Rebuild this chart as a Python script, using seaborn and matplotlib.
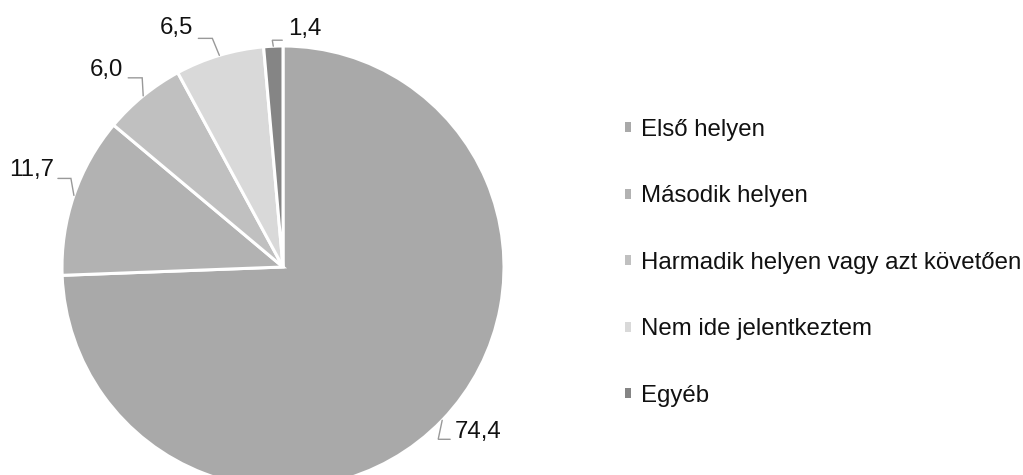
import numpy as np
import seaborn as sns
import matplotlib.pyplot as plt

# adatok
categories = ["Első helyen", "Második helyen", "Harmadik helyen vagy azt követően",
              "Nem ide jelentkeztem", "Egyéb"]
values = [74.4, 11.7, 6.0, 6.5, 1.4]
value_labels = ["74,4", "11,7", "6,0", "6,5", "1,4"]
colors = ["#a9a9a9", "#b2b2b2", "#c0c0c0", "#d9d9d9", "#858585"]

# címkék elhelyezése (pixelben): könyök, vízszintes szakasz, szöveg eltolás
label_layout = [
    dict(b=(-4, 19), c=12, ha="left", t=(5, -7)),
    dict(b=(-3, -17), c=-13, ha="right", t=(-4, -8)),
    dict(b=(-1, -18), c=-14, ha="right", t=(-5, -8)),
    dict(b=(-7, -17), c=-14, ha="right", t=(-5, -10)),
    dict(b=(-1, -6), c=10, ha="left", t=(6, -11)),
]


def set_config():
    sns.set_theme(style="white")
    plt.rcParams["font.family"] = ["Liberation Sans", "DejaVu Sans"]


def draw_pie():
    W, H = 1023, 475
    cx, cy, r = 283, 267, 221
    fig = plt.figure(figsize=(W / 100, H / 100), dpi=100)
    ax = fig.add_axes([(cx - r) / W, (H - cy - r) / H, 2 * r / W, 2 * r / H])

    wedges, _ = ax.pie(values, colors=colors, startangle=90, counterclock=False,
                       radius=1, wedgeprops=dict(edgecolor="white", linewidth=2.2))
    ax.set_xlim(-1, 1)
    ax.set_ylim(-1, 1)
    ax.set_aspect("auto")
    ax.axis("off")

    px = 1 / r  # egy pixel adategységben
    for w, lab, lay in zip(wedges, value_labels, label_layout):
        ang = np.deg2rad((w.theta1 + w.theta2) / 2)
        ex, ey = np.cos(ang), np.sin(ang)
        bx, by = ex + lay["b"][0] * px, ey - lay["b"][1] * px
        qx = bx + lay["c"] * px
        ax.plot([ex, bx, qx], [ey, by, by], color="#999999", lw=1,
                clip_on=False, solid_joinstyle="miter")
        ax.text(qx + lay["t"][0] * px, by - lay["t"][1] * px, lab,
                ha=lay["ha"], va="center", fontsize=17.3, color="#111111")

    leg = fig.legend(wedges, categories, loc="upper left",
                     bbox_to_anchor=(625 / W, (H - 119) / H), frameon=False,
                     fontsize=17.3, handlelength=0.27, handleheight=0.27,
                     handletextpad=0.38, labelspacing=1.85, borderpad=0,
                     borderaxespad=0)
    for t in leg.get_texts():
        t.set_color("#111111")
    for h in leg.legend_handles:
        h.set_edgecolor("none")
        h.set_linewidth(0)

    fig.savefig("out.png", dpi=100)


def main():
    set_config()
    draw_pie()


if __name__ == "__main__":
    main()
